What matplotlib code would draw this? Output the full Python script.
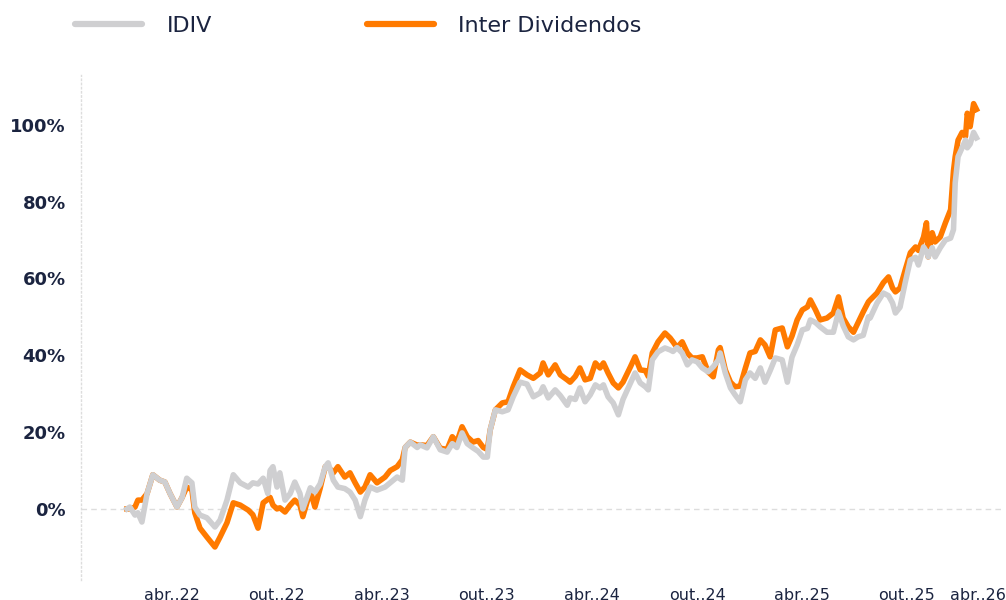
import pandas as pd
import matplotlib.pyplot as plt
from matplotlib.lines import Line2D

# dias corridos desde 13/01/2022
dias = [0, 5, 14, 19, 26, 35, 45, 57, 66, 75, 87, 96, 104, 113, 118, 127, 139, 153, 162, 174,
        185, 197, 211, 219, 228, 237, 245, 249, 254, 261, 266, 275, 284, 292, 301, 306, 319, 327,
        336, 345, 350, 359, 367, 379, 388, 397, 406, 414, 423, 435, 449, 458, 470, 479, 484, 493,
        505, 510, 522, 533, 545, 557, 566, 574, 583, 592, 602, 611, 620, 627, 632, 641, 653, 663,
        672, 684, 696, 707, 719, 724, 733, 745, 754, 766, 771, 780, 788, 797, 806, 815, 823, 829,
        837, 846, 855, 863, 876, 884, 893, 902, 907, 914, 924, 936, 945, 950, 957, 966, 975, 983,
        992, 1001, 1011, 1020, 1029, 1032, 1041, 1050, 1058, 1067, 1076, 1084, 1093, 1102, 1110,
        1119, 1128, 1140, 1149, 1157, 1166, 1175, 1184, 1189, 1198, 1206, 1218, 1229, 1238, 1246,
        1255, 1264, 1272, 1281, 1290, 1293, 1305, 1316, 1325, 1332, 1337, 1345, 1354, 1363, 1372,
        1377, 1386, 1391, 1394, 1401, 1406, 1415, 1424, 1433, 1438, 1441, 1446, 1453, 1459, 1462,
        1467, 1473, 1478]

idiv = [0, 0.5, -1.6, -1, -3.4, 4, 8.9, 7.5, 7, 4, 0.5, 3, 8, 6.8, 0.5, -1.6, -2.3, -4.7, -2.9, 2.3,
        8.9, 6.8, 5.7, 6.8, 6.5, 8, 4, 10, 11, 5.7, 9.4, 2.3, 4, 7, 4, 0, 5.5, 4.4,
        6.5, 11, 12, 7.5, 5.7, 5.3, 4.4, 2.3, -2, 2.3, 5.7, 4.9, 5.7, 6.8, 8.3, 7.5, 16, 17.4,
        16, 16.7, 15.9, 18.8, 15.4, 14.8, 17, 16, 19.8, 17, 15.9, 15, 13.5, 13.5, 20.6, 25.8, 25.3, 25.8,
        29.2, 33, 32.5, 29.2, 30.2, 31.8, 28.9, 31, 29.5, 27, 28.9, 28.5, 31.5, 27.9, 29.7, 32.3, 31.5, 32.3,
        29.2, 27.6, 24.5, 28.5, 32.8, 35.4, 32.8, 31.8, 31, 38.8, 40.9, 41.9, 41.4, 41, 42, 40.6, 37.5, 38.8,
        38.3, 36.7, 35.7, 37, 38.8, 40.6, 35.4, 31.5, 29.7, 27.9, 33.6, 35.4, 34, 36.7, 33,
        36, 39.3, 38.8, 33, 39.5, 42.7, 46.6, 47, 49.2, 48.5, 47.4, 46, 46, 51.3, 47.7,
        44.8, 44, 44.8, 45.2, 50, 49.7, 53.6, 56.2, 55.5, 53.6, 51, 52.5, 58.9, 64.8, 65.5,
        63.5, 68.2, 67, 65.6, 68, 65.6, 68, 70, 70.5, 72.7, 84.9, 91.7, 94, 96, 94,
        95, 98, 96.6]

inter = [0, 0, 0.5, 2.3, 2.3, 4, 8.9, 7.5, 7, 4, 0.5, 3, 5.7, 5, -1, -5, -7.3, -9.9, -7.3, -3.6,
         1.6, 1, -0.3, -1.5, -5, 1.6, 2.5, 3, 1, 0, 0.3, -0.8, 1, 2.3, 1, -2, 4.7, 0.5,
         5.3, 11, 11, 9.4, 11, 8.3, 9.4, 6.8, 4.4, 5.7, 8.9, 6.8, 8.3, 10, 11, 12.8, 16, 17.4,
         16.6, 16.7, 16.5, 18.8, 15.8, 15.5, 18.8, 17.4, 21.4, 18.8, 17.4, 17.8, 16, 15.5, 20.6, 25.8, 27.6, 27.9,
         31.8, 36.2, 34.9, 34, 35.4, 38, 34.9, 37.5, 34.9, 33.6, 33, 34.5, 36.7, 33.6, 34, 38, 36.7, 38,
         35.4, 32.8, 31.5, 33, 37, 39.6, 36.2, 36, 34.5, 40.6, 43.5, 45.8, 44.5, 43.5, 42, 43.5, 40.6, 39.3,
         39.3, 39.6, 35.7, 34.4, 41.4, 42, 36.2, 33, 31.8, 32, 36.7, 40.6, 41, 44, 42.7,
         39.6, 46.6, 47.1, 42.2, 45, 49.2, 51.8, 52.6, 54.4, 51.8, 49.2, 49.7, 51, 55.2, 49.7,
         47.4, 46, 48.5, 51.3, 53.9, 54.4, 56.2, 58.9, 60.4, 57.5, 56.5, 57.5, 62.2, 66.7, 68.2,
         67.3, 70.8, 74.5, 65.6, 71.9, 69.5, 70.8, 74.5, 77.9, 88, 91.7, 96, 98, 97, 103,
         99.5, 105.5, 104]

inicio = pd.Timestamp("2022-01-13")
datas = inicio + pd.to_timedelta(dias, unit="D")

tick_datas = ["2022-04-01", "2022-10-01", "2023-04-01", "2023-10-01", "2024-04-01",
              "2024-10-01", "2025-04-01", "2025-10-01", "2026-02-01"]
tick_rotulos = ["abr..22", "out..22", "abr..23", "out..23", "abr..24",
                "out..24", "abr..25", "out..25", "abr..26"]
y_ticks = [0, 20, 40, 60, 80, 100]

cinza = "#cfcfd1"
laranja = "#ff7a00"
texto = "#1b2440"

fig = plt.figure(figsize=(10.06, 6), dpi=100)
ax = fig.add_axes([0.0805, 0.0333, 0.917, 0.842])

ax.axhline(0, color="#dddddd", lw=1, ls=(0, (4, 3)), zorder=1)
ax.plot(datas, inter, color=laranja, lw=4, solid_joinstyle="round", zorder=2)
ax.plot(datas, idiv, color=cinza, lw=4, solid_joinstyle="round", zorder=3)

ax.set_xlim(inicio - pd.Timedelta(days=80), inicio + pd.Timedelta(days=1525))
ax.set_ylim(-18.5, 113)

ax.set_xticks(pd.to_datetime(tick_datas))
ax.set_xticklabels(tick_rotulos, fontsize=11.5, color=texto)
ax.set_yticks(y_ticks)
ax.set_yticklabels([f"{v}%" for v in y_ticks], fontsize=13, fontweight="bold", color=texto)
ax.tick_params(axis="both", length=0)
ax.tick_params(axis="y", pad=11)
ax.tick_params(axis="x", pad=6)

for s in ["top", "right", "bottom"]:
    ax.spines[s].set_visible(False)
ax.spines["left"].set_color("#dddddd")
ax.spines["left"].set_linestyle((0, (1, 2)))
ax.spines["left"].set_linewidth(1)

handles = [Line2D([], [], color=cinza, lw=4.5, solid_capstyle="round"),
           Line2D([], [], color=laranja, lw=4.5, solid_capstyle="round")]
leg = fig.legend(handles, ["IDIV", "Inter Dividendos"], loc="center left",
                 bbox_to_anchor=(0.055, 0.957), ncol=2, frameon=False, fontsize=16,
                 handlelength=3, handletextpad=1.1, columnspacing=7.0)
for t in leg.get_texts():
    t.set_color(texto)

fig.savefig("out.png", dpi=100)
